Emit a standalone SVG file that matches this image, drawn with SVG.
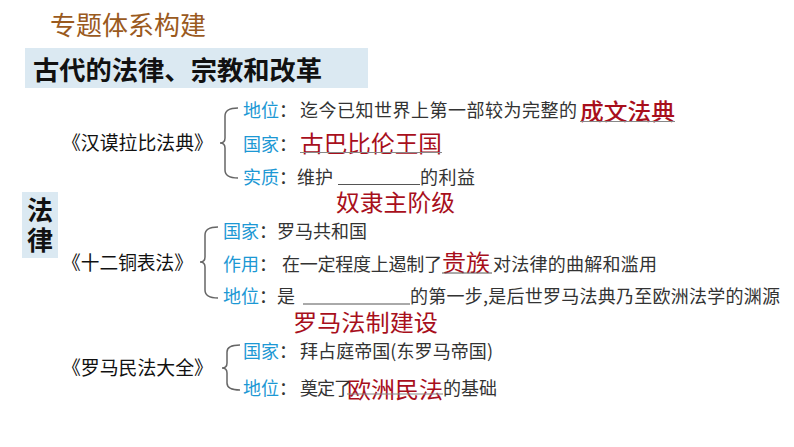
<svg xmlns="http://www.w3.org/2000/svg" width="794" height="447" viewBox="0 0 794 447">
<style>
text{font-family:"Noto Sans CJK SC","Noto Sans",sans-serif}
.title{font-size:26px;fill:#9a5a1e}
.head{font-size:26px;font-weight:bold;fill:#111}
.book{font-size:19px;fill:#111}
.lab{font-size:18px;fill:#1c98d4}
.txt{font-size:18px;fill:#333}
.ans{font-size:23px;fill:#a80f1c}
.brace{fill:none;stroke:#666;stroke-width:1.5}
.ul{stroke:#555;stroke-width:1}
.ulg{stroke:#888;stroke-width:1.2}
</style>
<rect width="794" height="447" fill="#fff"/>
<text class="title" x="50" y="35">专题体系构建</text>
<g id="header">
<rect x="25" y="48" width="343" height="40" fill="#dbe9f2"/>
<text class="head" x="33" y="80" textLength="289" lengthAdjust="spacingAndGlyphs">古代的法律、宗教和改革</text>
</g>
<g id="falv">
<rect x="22" y="192" width="36" height="66" fill="#dbe9f2"/>
<text x="27" y="220" style="font-size:26px;font-weight:bold;fill:#111">法</text>
<text x="27" y="250" style="font-size:26px;font-weight:bold;fill:#111">律</text>
</g>
<g id="connectors">
<path class="brace" d="M238,108 Q225,108 225,116 L225,138 Q225,143 220,143 Q225,143 225,148 L225,170 Q225,178 238,178"/>
<path class="brace" d="M218,227 Q205,227 205,235 L205,257 Q205,262 200,262 Q205,262 205,267 L205,290 Q205,298 218,298"/>
<path class="brace" d="M240,345 Q227,345 227,352 L227,363 Q227,368 222,368 Q227,368 227,373 L227,383 Q227,390 240,390"/>
</g>
<g id="hammurabi">
<text class="book" x="62" y="150" textLength="151" lengthAdjust="spacingAndGlyphs">《汉谟拉比法典》</text>
<text x="243" y="117"><tspan class="lab">地位</tspan><tspan class="txt">：</tspan></text>
<text class="txt" x="300" y="117" textLength="277" lengthAdjust="spacing">迄今已知世界上第一部较为完整的</text>
<text class="ans" x="580" y="120" style="font-weight:500" textLength="95" lengthAdjust="spacingAndGlyphs">成文法典</text>
<line class="ulg" x1="580" y1="121.5" x2="675" y2="121.5"/>
<text x="243" y="151"><tspan class="lab">国家</tspan><tspan class="txt">：</tspan></text>
<text class="ans" x="300" y="152" textLength="142" lengthAdjust="spacingAndGlyphs">古巴比伦王国</text>
<line class="ulg" x1="300" y1="152.5" x2="442" y2="152.5"/>
<text x="243" y="184"><tspan class="lab">实质</tspan><tspan class="txt">：维护</tspan></text>
<line class="ul" x1="338" y1="184.5" x2="420" y2="184.5"/>
<text class="txt" x="420" y="184" textLength="55" lengthAdjust="spacing">的利益</text>
<text class="ans" x="336" y="211" textLength="119" lengthAdjust="spacingAndGlyphs">奴隶主阶级</text>
</g>
<g id="twelve">
<text class="book" x="62" y="270" textLength="131" lengthAdjust="spacingAndGlyphs">《十二铜表法》</text>
<text x="223" y="238"><tspan class="lab">国家</tspan><tspan class="txt">：罗马共和国</tspan></text>
<text x="223" y="271"><tspan class="lab">作用</tspan><tspan class="txt">：</tspan></text>
<text class="txt" x="282" y="271" textLength="160" lengthAdjust="spacing">在一定程度上遏制了</text>
<text class="ans" x="442" y="271" textLength="48" lengthAdjust="spacingAndGlyphs">贵族</text>
<line class="ul" x1="442" y1="273" x2="492" y2="273"/>
<text class="txt" x="493" y="271" textLength="164" lengthAdjust="spacing">对法律的曲解和滥用</text>
<text x="223" y="303"><tspan class="lab">地位</tspan><tspan class="txt">：是</tspan></text>
<line class="ul" x1="303" y1="304" x2="410" y2="304"/>
<text class="txt" x="410" y="303" textLength="370" lengthAdjust="spacing">的第一步,是后世罗马法典乃至欧洲法学的渊源</text>
<text class="ans" x="293" y="331" textLength="145" lengthAdjust="spacingAndGlyphs">罗马法制建设</text>
</g>
<g id="corpus">
<text class="book" x="62" y="375" textLength="151" lengthAdjust="spacingAndGlyphs">《罗马民法大全》</text>
<text x="243" y="358"><tspan class="lab">国家</tspan><tspan class="txt">：</tspan></text>
<text class="txt" x="300" y="358" textLength="193" lengthAdjust="spacing">拜占庭帝国(东罗马帝国)</text>
<text x="243" y="395"><tspan class="lab">地位</tspan><tspan class="txt">：</tspan></text>
<text class="txt" x="300" y="395" textLength="52" lengthAdjust="spacing">奠定了</text>
<text class="ans" x="347" y="398" textLength="96" lengthAdjust="spacingAndGlyphs">欧洲民法</text>
<line class="ulg" x1="347" y1="394" x2="443" y2="394"/>
<text class="txt" x="443" y="395" textLength="54" lengthAdjust="spacing">的基础</text>
</g>
</svg>
